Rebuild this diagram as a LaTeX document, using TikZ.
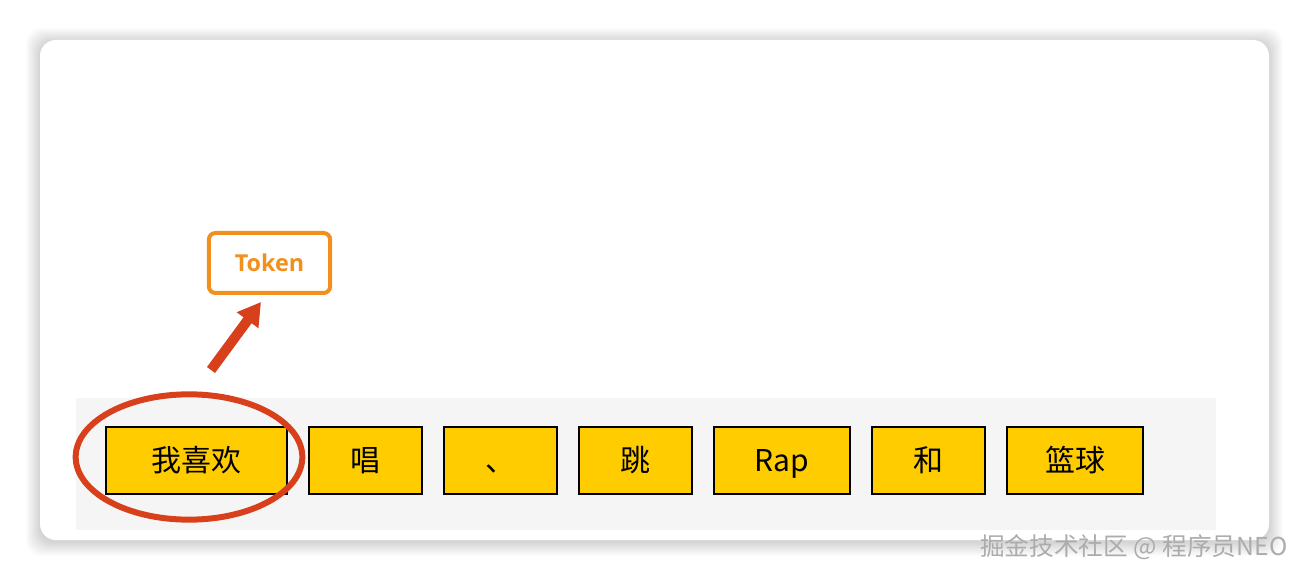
\documentclass[tikz,border=0pt]{standalone}
\usepackage{fontspec}
\usepackage{tikz}
\usetikzlibrary{arrows.meta, shapes, shadows}
\newfontfamily\cjkfont{Noto Sans CJK SC}
\newfontfamily\latinfont{Open Sans}
\definecolor{tokyellow}{HTML}{FFCC00}
\definecolor{tokred}{HTML}{D8401C}
\definecolor{tokorange}{HTML}{F2901E}
\definecolor{bandgray}{HTML}{F5F5F5}

\begin{document}
\begin{tikzpicture}[x=0.75pt, y=-0.75pt,
    wordbox/.style={draw=black, line width=1.5pt, fill=tokyellow, minimum height=50pt, inner sep=0pt, text height=19.5pt, text depth=3pt, font=\cjkfont\fontsize{22.5}{26}\selectfont},
    >={Triangle[length=17pt, width=19pt]}]
    \useasboundingbox (0,0) rectangle (1309,580);
    \fill[white] (0,0) rectangle (1309,580);

    % card with soft shadow
    \foreach \s in {1,...,14}
        \fill[black, opacity=0.013, rounded corners=12] (40-\s,40-\s+2) rectangle (1269+\s,540+\s+2);
    \fill[white, rounded corners=12] (40,40) rectangle (1269,540);
    \fill[bandgray] (76,398) rectangle (1216,530);

    % words
    \node[wordbox, minimum width=135.75pt] (w1) at (196.5,460.5) {我喜欢};
    \node[wordbox, minimum width=84.75pt] (w2) at (365.5,460.5) {唱};
    \node[wordbox, minimum width=84.75pt] (w3) at (500.5,460.5) {、};
    \node[wordbox, minimum width=84.75pt] (w4) at (635.5,460.5) {跳};
    \node[wordbox, minimum width=102pt] (w5) at (782,460.5) {Rap};
    \node[wordbox, minimum width=84.75pt] (w6) at (928.5,460.5) {和};
    \node[wordbox, minimum width=102pt] (w7) at (1075,460.5) {篮球};

    % highlight and label
    \node[draw=tokred, line width=4.5pt, ellipse, minimum width=170pt, minimum height=94pt, inner sep=0pt] (mark) at (189,457) {};
    \node[draw=tokorange, line width=3pt, rounded corners=5pt, fill=white, minimum width=91pt, minimum height=45pt, text=tokorange, font=\latinfont\bfseries\fontsize{17.5}{20}\selectfont] (tok) at (269.5,263) {Token};
    \coordinate (tail) at (211,370);
    \coordinate (tip) at (261,302);
    \draw[tokred, line width=7.5pt, ->] (tail) -- (tip);

    % watermark
    \node[anchor=east, text=gray!65, font=\cjkfont\fontsize{18.5}{22}\selectfont] (wm) at (1292,547) {掘金技术社区 @ 程序员NEO};
\end{tikzpicture}
\end{document}
